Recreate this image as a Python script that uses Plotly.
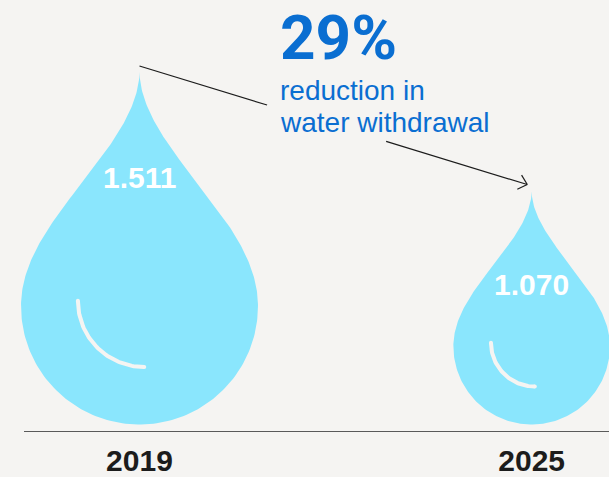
import numpy as np
import plotly.graph_objects as go

# ---------------- data ----------------
years = ["2019", "2025"]
withdrawal = [1.511, 1.070]
value_labels = ["1.511", "1.070"]
reduction_pct = "29%"
reduction_lines = ["reduction in", "water withdrawal"]

# ---------------- styling / geometry constants ----------------
W, H = 609, 477
MB = 45                      # bottom margin (room for year labels)
PH = H - MB                  # plot height in px (y axis: 1 unit = 1 px)
x_range = [-0.3557, 1.1972]  # categories at 0 and 1
PXX = W / (x_range[1] - x_range[0])

BG = "#f5f4f2"
DROP = "#8ae6fd"
BLUE = "#0a6ed1"
INK = "#1c1c1c"

K, EXP = 72.2, 1.2           # drop radius scale (px) vs value
TIP = 1.975                  # tip height above circle centre, in radii
LIFT = 7.5                   # gap between drop bottom and baseline (px)
PINCH = 1.85


def px_x(px):
    return x_range[0] + px / PXX


def dx(px):
    return px / PXX


def py_y(py):
    return PH - py


fig = go.Figure()

geo = []
for i, v in enumerate(withdrawal):
    R = K * v ** EXP
    cy = LIFT + R
    h = TIP * R
    cx = i
    # lower circle, from right widest point round the bottom to the left
    th = np.linspace(0, -np.pi, 120)
    xs = list(cx + dx(R * np.cos(th)))
    ys = list(cy + R * np.sin(th))
    s = np.linspace(0, 1, 120)
    w = R * np.cos(np.pi * s / 2) ** PINCH
    xs += list(cx - dx(w))
    ys += list(cy + s * h)
    xs += list(cx + dx(w[::-1]))
    ys += list(cy + s[::-1] * h)
    fig.add_trace(go.Scatter(x=xs, y=ys, mode="lines", fill="toself",
                             fillcolor=DROP, line=dict(width=0, color=DROP),
                             hoverinfo="skip", showlegend=False))
    # highlight arc
    r = 0.56 * R
    acx, acy = cx + dx(0.04 * R), cy + 0.045 * R
    a = np.linspace(np.pi, 1.5 * np.pi, 60)
    ax_ = acx + dx(r * np.cos(a))
    ay_ = acy + r * np.sin(a)
    fig.add_trace(go.Scatter(x=ax_, y=ay_, mode="lines",
                             line=dict(width=4, color=BG),
                             hoverinfo="skip", showlegend=False))
    fig.add_trace(go.Scatter(x=[ax_[0], ax_[-1]], y=[ay_[0], ay_[-1]], mode="markers",
                             marker=dict(size=4, color=BG, line=dict(width=0)),
                             hoverinfo="skip", showlegend=False))
    # value label
    Htot = R + h
    ly = LIFT + Htot - 0.1 * Htot - 70
    fig.add_annotation(x=cx, y=ly, text=value_labels[i], showarrow=False,
                       xanchor="center", yanchor="middle",
                       font=dict(family="Liberation Sans, Arial, sans-serif",
                                 size=30, color="white", weight="bold"))
    geo.append((cx, cy + h))

# connector line from tip of first drop to tip of second drop, broken by the text
(x0, y0), (x1, y1) = geo
sx, sy = x0, y0 + 6
ex, ey = x1 - dx(4.4), y1 + 7
for t_a, t_b in [(0.0, 0.329), (0.636, 1.0)]:
    fig.add_shape(type="line", xref="x", yref="y",
                  x0=sx + (ex - sx) * t_a, y0=sy + (ey - sy) * t_a,
                  x1=sx + (ex - sx) * t_b, y1=sy + (ey - sy) * t_b,
                  line=dict(color=INK, width=1.2))
# open chevron arrow head (computed in px space)
ux, uy = (ex - sx) * PXX, (ey - sy)
L = np.hypot(ux, uy)
bx, by = -ux / L, -uy / L
for ang in (np.radians(42), -np.radians(42)):
    rx = bx * np.cos(ang) - by * np.sin(ang)
    ry = bx * np.sin(ang) + by * np.cos(ang)
    fig.add_shape(type="line", xref="x", yref="y",
                  x0=ex, y0=ey, x1=ex + dx(11 * rx), y1=ey + 11 * ry,
                  line=dict(color=INK, width=1.2))

# baseline
fig.add_shape(type="line", xref="paper", yref="y", x0=24 / W, x1=1, y0=0, y1=0,
              line=dict(color="#5a5a5a", width=1.8))

# headline text
fig.add_annotation(xref="x", yref="y", x=px_x(278), y=py_y(37.5), text=reduction_pct,
                   showarrow=False, xanchor="left", yanchor="middle",
                   font=dict(family="Roboto, Liberation Sans, Arial, sans-serif",
                             size=62, color=BLUE, weight="bold"))
for j, line in enumerate(reduction_lines):
    fig.add_annotation(xref="x", yref="y", x=px_x(278), y=py_y(90.6 + 31.7 * j), text=line,
                       showarrow=False, xanchor="left", yanchor="middle",
                       font=dict(family="Liberation Sans, Arial, sans-serif",
                                 size=28, color=BLUE))

fig.update_layout(
    width=W, height=H,
    margin=dict(l=0, r=0, t=0, b=MB, pad=0),
    paper_bgcolor=BG, plot_bgcolor=BG,
    showlegend=False,
    xaxis=dict(range=x_range, tickvals=[0, 1], ticktext=years, showgrid=False,
               zeroline=False, showline=False, ticks="", ticklen=0,
               ticklabelstandoff=8,
               tickfont=dict(family="Liberation Sans, Arial, sans-serif", size=30,
                             color=INK, weight="bold"),
               fixedrange=True),
    yaxis=dict(range=[0, PH], visible=False, showgrid=False, zeroline=False,
               fixedrange=True),
)

fig.write_html("out.html", config={"displayModeBar": False})
